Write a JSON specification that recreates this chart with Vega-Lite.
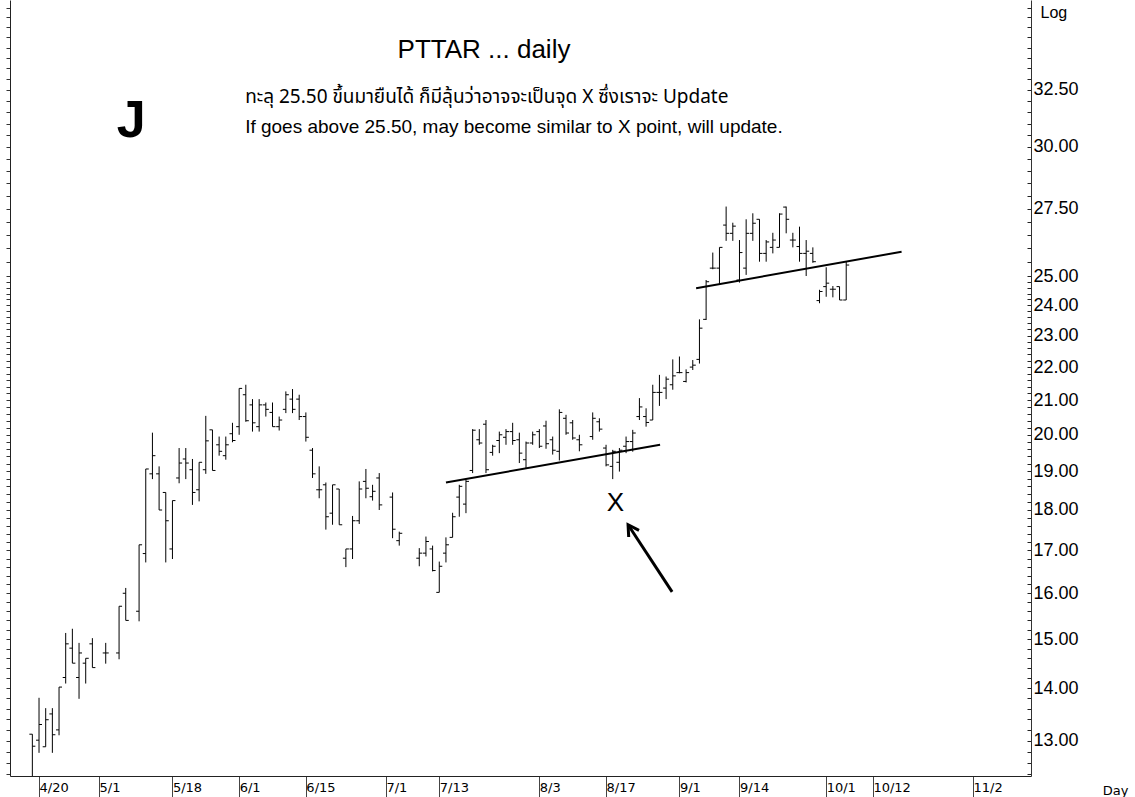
{
  "$schema": "https://vega.github.io/schema/vega-lite/v6.json",
  "width": 1021,
  "height": 776,
  "autosize": {"type": "none"},
  "padding": {"left": 10, "right": 104, "top": 0, "bottom": 21},
  "background": "white",
  "config": {"view": {"stroke": null}, "font": "Liberation Sans"},
  "datasets": {
    "ohlc": [
      {"i":0,"o":13.12,"h":13.12,"l":12.3,"c":12.90},
      {"i":1,"o":13.01,"h":13.81,"l":12.78,"c":13.30},
      {"i":2,"o":12.89,"h":13.61,"l":12.89,"c":13.39},
      {"i":3,"o":13.50,"h":13.61,"l":12.78,"c":13.11},
      {"i":4,"o":13.20,"h":14.02,"l":13.10,"c":14.02},
      {"i":5,"o":14.21,"h":15.13,"l":14.09,"c":14.90},
      {"i":6,"o":14.81,"h":15.22,"l":14.50,"c":14.50},
      {"i":7,"o":14.21,"h":14.92,"l":13.79,"c":14.71},
      {"i":8,"o":14.50,"h":14.60,"l":14.09,"c":14.60},
      {"i":9,"o":14.90,"h":15.02,"l":14.41,"c":14.41},
      {"i":11,"o":14.71,"h":14.92,"l":14.49,"c":14.71},
      {"i":13,"o":14.71,"h":15.71,"l":14.58,"c":15.71},
      {"i":14,"o":16.00,"h":16.12,"l":15.40,"c":15.40},
      {"i":16,"o":15.60,"h":17.13,"l":15.38,"c":17.13},
      {"i":17,"o":16.92,"h":19.06,"l":16.71,"c":19.06},
      {"i":18,"o":18.93,"h":20.06,"l":18.79,"c":19.42},
      {"i":19,"o":18.93,"h":19.13,"l":17.99,"c":17.99},
      {"i":20,"o":18.44,"h":18.44,"l":16.71,"c":17.72},
      {"i":21,"o":17.03,"h":18.23,"l":16.79,"c":18.23},
      {"i":22,"o":18.82,"h":19.63,"l":18.68,"c":19.22},
      {"i":23,"o":19.33,"h":19.63,"l":18.79,"c":19.22},
      {"i":24,"o":19.04,"h":19.33,"l":18.12,"c":18.44},
      {"i":25,"o":18.51,"h":19.24,"l":18.21,"c":19.24},
      {"i":26,"o":19.04,"h":20.54,"l":18.93,"c":19.83},
      {"i":27,"o":20.14,"h":20.14,"l":19.02,"c":19.02},
      {"i":28,"o":19.72,"h":19.95,"l":19.42,"c":19.54},
      {"i":29,"o":19.42,"h":19.95,"l":19.31,"c":19.72},
      {"i":30,"o":20.03,"h":20.34,"l":19.79,"c":19.84},
      {"i":31,"o":20.23,"h":21.35,"l":20.00,"c":21.35},
      {"i":32,"o":21.16,"h":21.46,"l":20.37,"c":20.40},
      {"i":33,"o":20.86,"h":21.03,"l":20.09,"c":20.34},
      {"i":34,"o":20.23,"h":21.03,"l":20.09,"c":20.86},
      {"i":35,"o":20.86,"h":20.93,"l":20.52,"c":20.73},
      {"i":36,"o":20.64,"h":20.93,"l":20.23,"c":20.23},
      {"i":37,"o":20.23,"h":20.52,"l":20.12,"c":20.42},
      {"i":38,"o":20.73,"h":21.26,"l":20.62,"c":21.16},
      {"i":39,"o":21.03,"h":21.33,"l":20.62,"c":20.73},
      {"i":40,"o":21.03,"h":21.16,"l":20.42,"c":20.52},
      {"i":41,"o":20.52,"h":20.64,"l":19.81,"c":19.93},
      {"i":42,"o":19.57,"h":19.63,"l":18.82,"c":18.93},
      {"i":43,"o":18.51,"h":19.13,"l":18.29,"c":18.51},
      {"i":44,"o":18.64,"h":18.70,"l":17.50,"c":17.82},
      {"i":45,"o":17.91,"h":18.64,"l":17.62,"c":18.64},
      {"i":46,"o":18.53,"h":18.53,"l":17.62,"c":17.62},
      {"i":47,"o":16.81,"h":17.03,"l":16.60,"c":17.03},
      {"i":48,"o":17.03,"h":17.84,"l":16.79,"c":17.72},
      {"i":49,"o":17.72,"h":18.73,"l":17.64,"c":18.53},
      {"i":50,"o":18.73,"h":19.06,"l":18.29,"c":18.55},
      {"i":51,"o":18.33,"h":18.64,"l":18.23,"c":18.47},
      {"i":52,"o":18.82,"h":18.95,"l":17.99,"c":18.12},
      {"i":54,"o":18.32,"h":18.44,"l":17.29,"c":17.51},
      {"i":55,"o":17.23,"h":17.45,"l":17.11,"c":17.41},
      {"i":58,"o":16.81,"h":17.05,"l":16.62,"c":16.93},
      {"i":59,"o":16.93,"h":17.33,"l":16.85,"c":17.21},
      {"i":60,"o":17.03,"h":17.11,"l":16.50,"c":16.52},
      {"i":61,"o":16.02,"h":16.73,"l":16.02,"c":16.62},
      {"i":62,"o":16.93,"h":17.31,"l":16.71,"c":17.13},
      {"i":63,"o":17.31,"h":17.92,"l":17.31,"c":17.82},
      {"i":64,"o":18.32,"h":18.64,"l":17.82,"c":18.60},
      {"i":65,"o":18.14,"h":18.77,"l":17.91,"c":18.73},
      {"i":66,"o":19.02,"h":20.16,"l":18.95,"c":20.13},
      {"i":67,"o":19.86,"h":20.16,"l":19.72,"c":19.77},
      {"i":68,"o":20.30,"h":20.42,"l":18.95,"c":19.04},
      {"i":69,"o":19.51,"h":19.72,"l":19.42,"c":19.68},
      {"i":70,"o":19.84,"h":20.09,"l":19.49,"c":20.00},
      {"i":71,"o":19.93,"h":20.16,"l":19.72,"c":20.09},
      {"i":72,"o":20.09,"h":20.34,"l":19.72,"c":19.84},
      {"i":73,"o":19.86,"h":20.06,"l":19.22,"c":19.49},
      {"i":74,"o":19.31,"h":19.81,"l":19.06,"c":19.77},
      {"i":75,"o":19.77,"h":20.09,"l":19.72,"c":20.00},
      {"i":76,"o":20.09,"h":20.16,"l":19.63,"c":19.68},
      {"i":77,"o":20.25,"h":20.40,"l":19.61,"c":19.75},
      {"i":78,"o":19.86,"h":19.95,"l":19.45,"c":19.57},
      {"i":79,"o":19.54,"h":20.73,"l":19.29,"c":20.64},
      {"i":80,"o":20.47,"h":20.57,"l":20.00,"c":20.05},
      {"i":81,"o":20.34,"h":20.42,"l":19.86,"c":19.91},
      {"i":82,"o":19.86,"h":20.00,"l":19.54,"c":19.72},
      {"i":84,"o":19.95,"h":20.64,"l":19.86,"c":20.47},
      {"i":85,"o":20.37,"h":20.47,"l":20.09,"c":20.16},
      {"i":86,"o":19.63,"h":19.72,"l":19.13,"c":19.17},
      {"i":87,"o":19.13,"h":19.58,"l":18.79,"c":19.54},
      {"i":88,"o":19.24,"h":19.63,"l":18.99,"c":19.57},
      {"i":89,"o":19.68,"h":19.95,"l":19.49,"c":19.81},
      {"i":90,"o":19.81,"h":20.14,"l":19.53,"c":20.05},
      {"i":91,"o":20.52,"h":21.06,"l":20.42,"c":20.80},
      {"i":92,"o":20.52,"h":20.76,"l":20.23,"c":20.35},
      {"i":93,"o":20.42,"h":21.46,"l":20.42,"c":21.23},
      {"i":94,"o":21.23,"h":21.76,"l":20.83,"c":21.23},
      {"i":95,"o":21.36,"h":21.71,"l":21.03,"c":21.63},
      {"i":96,"o":21.46,"h":22.24,"l":21.31,"c":21.73},
      {"i":97,"o":21.83,"h":22.33,"l":21.81,"c":21.83},
      {"i":98,"o":21.56,"h":21.93,"l":21.53,"c":21.83},
      {"i":99,"o":22.00,"h":22.22,"l":21.91,"c":22.06},
      {"i":100,"o":22.24,"h":23.53,"l":22.11,"c":23.24},
      {"i":101,"o":23.53,"h":24.87,"l":23.51,"c":24.81},
      {"i":102,"o":25.29,"h":25.85,"l":25.25,"c":25.29},
      {"i":103,"o":25.29,"h":26.04,"l":24.70,"c":26.04},
      {"i":104,"o":26.87,"h":27.58,"l":26.28,"c":26.56},
      {"i":105,"o":26.56,"h":26.96,"l":26.28,"c":26.83},
      {"i":106,"o":24.87,"h":26.31,"l":24.78,"c":25.85},
      {"i":107,"o":25.29,"h":27.09,"l":25.05,"c":26.56},
      {"i":108,"o":26.56,"h":27.32,"l":26.28,"c":26.94},
      {"i":109,"o":27.09,"h":27.09,"l":25.52,"c":25.82},
      {"i":110,"o":25.82,"h":26.31,"l":25.52,"c":26.24},
      {"i":111,"o":26.04,"h":26.58,"l":25.82,"c":26.31},
      {"i":112,"o":26.04,"h":27.32,"l":26.04,"c":27.29},
      {"i":113,"o":27.56,"h":27.58,"l":26.56,"c":27.09},
      {"i":114,"o":26.31,"h":26.58,"l":26.04,"c":26.31},
      {"i":115,"o":26.07,"h":26.81,"l":25.52,"c":25.82},
      {"i":116,"o":25.82,"h":26.31,"l":25.01,"c":25.90},
      {"i":117,"o":25.82,"h":26.04,"l":25.48,"c":25.52},
      {"i":118,"o":24.16,"h":24.53,"l":24.07,"c":24.47},
      {"i":119,"o":24.64,"h":25.32,"l":24.29,"c":24.76},
      {"i":120,"o":24.55,"h":24.66,"l":24.27,"c":24.55},
      {"i":121,"o":24.64,"h":24.64,"l":24.18,"c":24.18},
      {"i":122,"o":24.18,"h":25.52,"l":24.18,"c":25.40}
    ],
    "trend": [
      {"seg":"support","i":62.0,"p":18.70},
      {"seg":"support","i":94.1,"p":19.72},
      {"seg":"upper","i":99.5,"p":24.58},
      {"seg":"upper","i":130.3,"p":25.88}
    ],
    "arrow": [
      {"part":"tail","i":95.9,"p":16.03},
      {"part":"head","i":89.3,"p":17.62}
    ]
  },
  "encoding": {
    "x": {
      "field": "i",
      "type": "quantitative",
      "scale": {"domain": [-3.35, 149.7], "nice": false, "zero": false},
      "axis": {
        "title": "Day",
        "titleX": 1105,
        "titleY": 14,
        "titleAlign": "center",
        "titleBaseline": "middle",
        "titleFont": "DejaVu Sans",
        "titleFontSize": 13,
        "titleFontWeight": "normal",
        "titleColor": "#000000",
        "values": [1, 10, 21, 31, 41, 53, 61, 76, 86, 97, 106, 119, 126, 141],
        "labelExpr": "datum.value == 1 ? '4/20' : datum.value == 10 ? '5/1' : datum.value == 21 ? '5/18' : datum.value == 31 ? '6/1' : datum.value == 41 ? '6/15' : datum.value == 53 ? '7/1' : datum.value == 61 ? '7/13' : datum.value == 76 ? '8/3' : datum.value == 86 ? '8/17' : datum.value == 97 ? '9/1' : datum.value == 106 ? '9/14' : datum.value == 119 ? '10/1' : datum.value == 126 ? '10/12' : '11/2'",
        "labelAlign": "left",
        "labelBaseline": "top",
        "labelDx": 2,
        "labelPadding": -16,
        "labelFont": "DejaVu Sans",
        "labelFontSize": 13,
        "labelColor": "#000000",
        "labelFlush": false,
        "labelOverlap": false,
        "tickSize": 21,
        "tickColor": "#444444",
        "domainColor": "#222222",
        "grid": false
      }
    }
  },
  "resolve": {"axis": {"y": "independent"}},
  "layer": [
    {
      "data": {"name": "ohlc"},
      "mark": {"type": "rule", "color": "#000000", "strokeWidth": 1, "clip": true},
      "encoding": {
        "y": {
          "field": "l",
          "type": "quantitative",
          "scale": {"type": "log", "domain": [12.37, 36.89], "nice": false},
          "axis": {
            "orient": "left",
            "title": null,
            "labels": false,
            "values": [12.4,12.6,12.8,13,13.2,13.4,13.6,13.8,14,14.2,14.4,14.6,14.8,15,15.2,15.4,15.6,15.8,16,16.2,16.4,16.6,16.8,17,17.2,17.4,17.6,17.8,18,18.2,18.4,18.6,18.8,19,19.2,19.4,19.6,19.8,20,20.2,20.4,20.6,20.8,21,21.2,21.4,21.6,21.8,22,22.2,22.4,22.6,22.8,23,23.2,23.4,23.6,23.8,24,24.2,24.4,24.6,24.8,25,25.5,26,26.5,27,27.5,28,28.5,29,29.5,30,30.5,31,31.5,32,32.5,33,33.5,34,34.5,35,35.5,36,36.5],
            "tickSize": 4,
            "tickColor": "#333333",
            "domainColor": "#222222",
            "grid": false
          }
        },
        "y2": {"field": "h"}
      }
    },
    {
      "data": {"name": "ohlc"},
      "mark": {"type": "tick", "orient": "horizontal", "color": "#000000", "size": 3, "thickness": 1, "xOffset": -1.5, "opacity": 1},
      "encoding": {
        "y": {
          "field": "o",
          "type": "quantitative",
          "scale": {"type": "log", "domain": [12.37, 36.89], "nice": false},
          "axis": {
            "orient": "right",
            "title": "Log",
            "titleAngle": 0,
            "titleX": 9,
            "titleY": 12,
            "titleAlign": "left",
            "titleBaseline": "middle",
            "titleFont": "Liberation Sans",
            "titleFontSize": 16,
            "titleFontWeight": "normal",
            "titleColor": "#000000",
            "values": [12.4,12.6,12.8,13,13.2,13.4,13.6,13.8,14,14.2,14.4,14.6,14.8,15,15.2,15.4,15.6,15.8,16,16.2,16.4,16.6,16.8,17,17.2,17.4,17.6,17.8,18,18.2,18.4,18.6,18.8,19,19.2,19.4,19.6,19.8,20,20.2,20.4,20.6,20.8,21,21.2,21.4,21.6,21.8,22,22.2,22.4,22.6,22.8,23,23.2,23.4,23.6,23.8,24,24.2,24.4,24.6,24.8,25,25.5,26,26.5,27,27.5,28,28.5,29,29.5,30,30.5,31,31.5,32,32.5,33,33.5,34,34.5,35,35.5,36,36.5],
            "labelExpr": "indexof([13,14,15,16,17,18,19,20,21,22,23,24,25,27.5,30,32.5], datum.value) >= 0 ? format(datum.value, '.2f') : ''",
            "labelAlign": "left",
            "labelBaseline": "middle",
            "labelFont": "Liberation Sans",
            "labelFontSize": 18,
            "labelColor": "#000000",
            "labelPadding": 6,
            "labelFlush": false,
            "labelOverlap": false,
            "tickSize": -4,
            "tickColor": "#222222",
            "domainColor": "#333333",
            "grid": false
          }
        }
      }
    },
    {
      "data": {"name": "ohlc"},
      "mark": {"type": "tick", "orient": "horizontal", "color": "#000000", "size": 3, "thickness": 1, "xOffset": 1.5, "opacity": 1},
      "encoding": {
        "y": {"field": "c", "type": "quantitative", "scale": {"type": "log", "domain": [12.37, 36.89], "nice": false}, "axis": null}
      }
    },
    {
      "data": {"name": "trend"},
      "mark": {"type": "line", "color": "#000000", "strokeWidth": 2},
      "encoding": {
        "y": {"field": "p", "type": "quantitative", "scale": {"type": "log", "domain": [12.37, 36.89], "nice": false}, "axis": null},
        "detail": {"field": "seg"}
      }
    },
    {
      "data": {"name": "arrow"},
      "mark": {"type": "line", "color": "#000000", "strokeWidth": 3},
      "encoding": {
        "y": {"field": "p", "type": "quantitative", "scale": {"type": "log", "domain": [12.37, 36.89], "nice": false}, "axis": null}
      }
    },
    {
      "data": {"name": "arrow"},
      "transform": [{"filter": "datum.part == 'head'"}],
      "mark": {"type": "point", "shape": "M -0.55 0.95 L 0 0 L 0.55 0.95", "filled": false, "stroke": "#000000", "strokeWidth": 3, "size": 500, "angle": -33, "opacity": 1},
      "encoding": {
        "y": {"field": "p", "type": "quantitative", "scale": {"type": "log", "domain": [12.37, 36.89], "nice": false}, "axis": null}
      }
    },
    {
      "data": {"values": [{"i": 67.7, "p": 34.38, "t": "PTTAR ... daily"}]},
      "mark": {"type": "text", "font": "Liberation Sans", "fontSize": 26, "align": "center", "baseline": "middle", "color": "#000000"},
      "encoding": {
        "y": {"field": "p", "type": "quantitative", "scale": {"type": "log", "domain": [12.37, 36.89], "nice": false}, "axis": null},
        "text": {"field": "t"}
      }
    },
    {
      "data": {"values": [{"i": 14.8, "p": 31.1, "t": "J"}]},
      "mark": {"type": "text", "font": "Liberation Sans", "fontSize": 52, "fontWeight": "bold", "align": "center", "baseline": "middle", "color": "#000000"},
      "encoding": {
        "y": {"field": "p", "type": "quantitative", "scale": {"type": "log", "domain": [12.37, 36.89], "nice": false}, "axis": null},
        "text": {"field": "t"}
      }
    },
    {
      "data": {"values": [{"i": 31.9, "p": 32.2, "t": "ทะลุ 25.50 ขึ้นมายืนได้ ก็มีลุ้นว่าอาจจะเป็นจุด X ซึ่งเราจะ Update"}]},
      "mark": {"type": "text", "font": "Tahoma, Noto Sans Thai, Loma, Garuda, sans-serif", "fontSize": 19, "align": "left", "baseline": "middle", "color": "#000000"},
      "encoding": {
        "y": {"field": "p", "type": "quantitative", "scale": {"type": "log", "domain": [12.37, 36.89], "nice": false}, "axis": null},
        "text": {"field": "t"}
      }
    },
    {
      "data": {"values": [{"i": 31.9, "p": 30.85, "t": "If goes above 25.50, may become similar to X point, will update."}]},
      "mark": {"type": "text", "font": "Liberation Sans", "fontSize": 19, "align": "left", "baseline": "middle", "color": "#000000"},
      "encoding": {
        "y": {"field": "p", "type": "quantitative", "scale": {"type": "log", "domain": [12.37, 36.89], "nice": false}, "axis": null},
        "text": {"field": "t"}
      }
    },
    {
      "data": {"values": [{"i": 87.4, "p": 18.17, "t": "X"}]},
      "mark": {"type": "text", "font": "Liberation Sans", "fontSize": 26, "align": "center", "baseline": "middle", "color": "#000000"},
      "encoding": {
        "y": {"field": "p", "type": "quantitative", "scale": {"type": "log", "domain": [12.37, 36.89], "nice": false}, "axis": null},
        "text": {"field": "t"}
      }
    }
  ]
}
